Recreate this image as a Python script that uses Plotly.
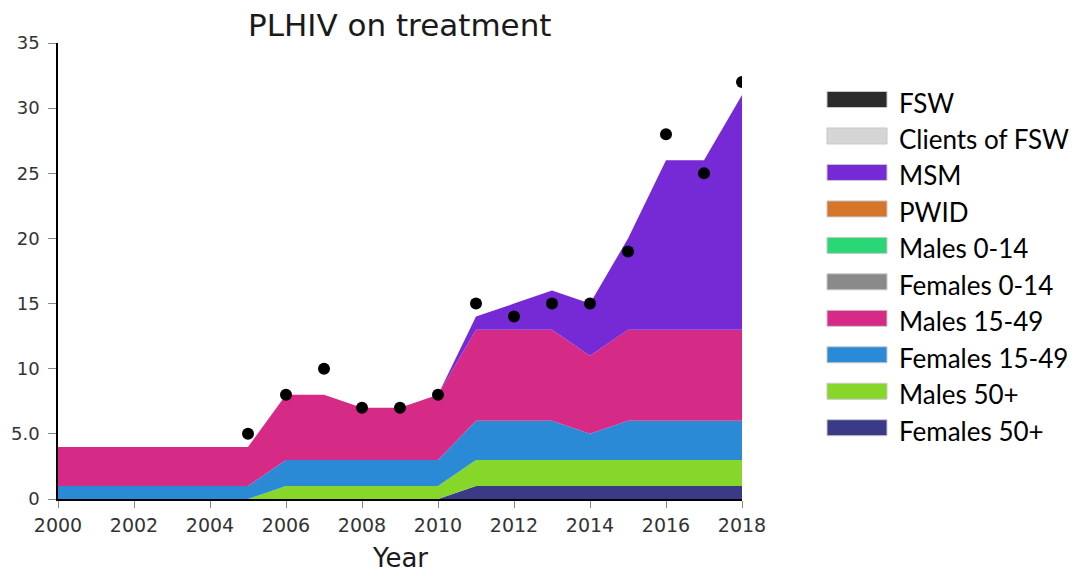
import plotly.graph_objects as go

years = list(range(2000, 2019))

# Stacked layers (bottom to top)
females_50 = [0, 0, 0, 0, 0, 0, 0, 0, 0, 0, 0, 1, 1, 1, 1, 1, 1, 1, 1]
males_50 = [0, 0, 0, 0, 0, 0, 1, 1, 1, 1, 1, 2, 2, 2, 2, 2, 2, 2, 2]
females_15_49 = [1, 1, 1, 1, 1, 1, 2, 2, 2, 2, 2, 3, 3, 3, 2, 3, 3, 3, 3]
males_15_49 = [3, 3, 3, 3, 3, 3, 5, 5, 4, 4, 5, 7, 7, 7, 6, 7, 7, 7, 7]
females_0_14 = [0] * 19
males_0_14 = [0] * 19
pwid = [0] * 19
msm = [0, 0, 0, 0, 0, 0, 0, 0, 0, 0, 0, 1, 2, 3, 4, 7, 13, 13, 18]
clients_fsw = [0] * 19
fsw = [0] * 19

# Observed data points
obs_years = [2005, 2006, 2007, 2008, 2009, 2010, 2011, 2012, 2013, 2014, 2015, 2016, 2017, 2018]
obs_values = [5, 8, 10, 7, 7, 8, 15, 14, 15, 15, 19, 28, 25, 32]

y_tickvals = [0, 5, 10, 15, 20, 25, 30, 35]
y_ticktext = ["0", "5.0", "10", "15", "20", "25", "30", "35"]
x_tickvals = list(range(2000, 2019, 2))

# Legend (top to bottom)
legend_names = ["FSW", "Clients of FSW", "MSM", "PWID", "Males 0-14", "Females 0-14",
                "Males 15-49", "Females 15-49", "Males 50+", "Females 50+"]
colors = {
    "FSW": "#2b2b2b",
    "Clients of FSW": "#d6d6d6",
    "MSM": "#762ad6",
    "PWID": "#d6762a",
    "Males 0-14": "#2ad676",
    "Females 0-14": "#8a8a8a",
    "Males 15-49": "#d62a87",
    "Females 15-49": "#2a8ad6",
    "Males 50+": "#87d62a",
    "Females 50+": "#3a3a87",
}

stack = [
    ("Females 50+", females_50),
    ("Males 50+", males_50),
    ("Females 15-49", females_15_49),
    ("Males 15-49", males_15_49),
    ("Females 0-14", females_0_14),
    ("Males 0-14", males_0_14),
    ("PWID", pwid),
    ("MSM", msm),
    ("Clients of FSW", clients_fsw),
    ("FSW", fsw),
]

fig = go.Figure()
for name, vals in stack:
    fig.add_trace(go.Scatter(
        x=years, y=vals, name=name, mode="lines",
        stackgroup="one", line=dict(width=0, color=colors[name]),
        fillcolor=colors[name], showlegend=False,
    ))

fig.add_trace(go.Scatter(
    x=obs_years, y=obs_values, mode="markers",
    marker=dict(color="black", size=12), showlegend=False,
))

W, H = 1081, 576
L, R, T, B = 58, 742, 43, 499

def px_x(px):
    return (px - L) / (R - L)

def px_y(py):
    return (B - py) / (B - T)

shapes = []
annotations = []
row0 = 99.5
step = 36.47
for i, name in enumerate(legend_names):
    cy = row0 + i * step
    shapes.append(dict(
        type="rect", xref="paper", yref="paper",
        x0=px_x(827), x1=px_x(887), y0=px_y(cy - 8), y1=px_y(cy + 8),
        fillcolor=colors[name], line=dict(color="#c8c8c8", width=1),
    ))
    annotations.append(dict(
        text=name, xref="paper", yref="paper", x=px_x(897), y=px_y(cy + 3),
        xanchor="left", yanchor="middle", showarrow=False,
        font=dict(family="Lato", size=26, color="#000000"),
    ))

annotations.append(dict(
    text="PLHIV on treatment", xref="paper", yref="paper",
    x=px_x(399), y=px_y(25), xanchor="center", yanchor="middle", showarrow=False,
    font=dict(family="DejaVu Sans", size=31, color="#1a1a1a"),
))
annotations.append(dict(
    text="Year", xref="paper", yref="paper",
    x=px_x(400), y=px_y(558), xanchor="center", yanchor="middle", showarrow=False,
    font=dict(family="DejaVu Sans", size=26, color="#1a1a1a"),
))

fig.update_layout(
    width=W, height=H,
    margin=dict(l=L, r=W - R, t=T, b=H - B, pad=0),
    plot_bgcolor="white", paper_bgcolor="white",
    shapes=shapes, annotations=annotations,
    font=dict(family="DejaVu Sans", size=18, color="#333333"),
)
fig.update_xaxes(
    range=[2000, 2018], tickvals=x_tickvals, showgrid=False, zeroline=False,
    showline=True, linecolor="black", linewidth=1.5, automargin=False,
    ticks="outside", ticklen=7, tickcolor="#888888", tickwidth=1,
    tickfont=dict(family="DejaVu Sans", size=19, color="#333333"),
    ticklabelstandoff=1,
)
fig.update_yaxes(
    range=[0, 35], tickvals=y_tickvals, ticktext=y_ticktext, showgrid=False,
    zeroline=False, showline=True, linecolor="black", linewidth=1.5, automargin=False,
    ticks="outside", ticklen=8, tickcolor="#888888", tickwidth=1,
    tickfont=dict(family="DejaVu Sans", size=18, color="#333333"),
    ticklabelstandoff=5,
)

fig.write_html(
    "out.html",
    config={"displayModeBar": False},
    post_script="document.body.style.margin='0px';"
                "document.documentElement.style.overflow='hidden';",
)
